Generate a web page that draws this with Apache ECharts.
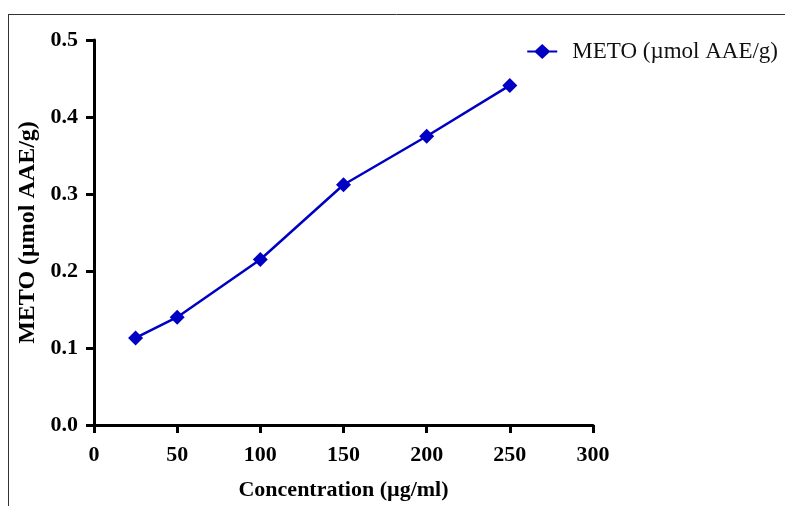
<!DOCTYPE html>
<html>
<head>
<meta charset="utf-8">
<script src="https://cdn.jsdelivr.net/npm/echarts@6/dist/echarts.min.js"></script>
<style>
  html, body { margin: 0; padding: 0; background: #fff; }
  #chart { width: 785px; height: 506px; }
</style>
</head>
<body>
<div id="chart"></div>
<script>
// concentration (µg/ml)
const concentrations = [25, 50, 100, 150, 200, 250]
// METO (µmol AAE/g)
const metoValues = [0.113, 0.140, 0.215, 0.312, 0.375, 0.441]
const seriesName = 'METO (µmol AAE/g)'

const pairs = concentrations.map((c, i) => [c, metoValues[i]])

const chart = echarts.init(document.getElementById('chart'))
const font = '"Liberation Serif", "Times New Roman", serif'

// legend icon: line with a diamond in the middle
const lineDiamond = 'path://M0,6.5L8,6.5L15,0L22,6.5L30,6.5L30,8.5L22,8.5L15,15L8,8.5L0,8.5Z'

chart.setOption({
  animation: false,
  textStyle: { fontFamily: font },
  graphic: [
    { type: 'line', shape: { x1: 8, y1: 14.5, x2: 785, y2: 14.5 }, style: { stroke: '#333', lineWidth: 1 } },
    { type: 'line', shape: { x1: 8.5, y1: 14, x2: 8.5, y2: 506 }, style: { stroke: '#333', lineWidth: 1 } },
  ],
  legend: {
    right: 2,
    top: 35,
    itemWidth: 30,
    itemHeight: 15,
    itemGap: 10,
    textStyle: { fontFamily: font, fontSize: 23, color: '#111', padding: [0, 0, 0, 10] },
    data: [{ name: seriesName, icon: lineDiamond }],
  },
  grid: { left: 94, right: 192, top: 40, bottom: 78 },
  xAxis: {
    type: 'value',
    min: 0,
    max: 300,
    interval: 50,
    name: 'Concentration (µg/ml)',
    nameLocation: 'middle',
    nameGap: 54,
    nameTextStyle: { fontFamily: font, fontSize: 22, fontWeight: 'bold', color: '#000' },
    axisLine: { show: true, lineStyle: { color: '#000', width: 3 } },
    axisTick: { show: true, length: 8, lineStyle: { color: '#000', width: 3 } },
    axisLabel: { fontFamily: font, fontSize: 22, fontWeight: 'bold', color: '#000', margin: 19 },
    splitLine: { show: false },
  },
  yAxis: {
    type: 'value',
    min: 0,
    max: 0.5,
    interval: 0.1,
    name: seriesName,
    nameLocation: 'middle',
    nameGap: 54,
    nameTextStyle: { fontFamily: font, fontSize: 24, fontWeight: 'bold', color: '#000' },
    axisLine: { show: true, lineStyle: { color: '#000', width: 3 } },
    axisTick: { show: true, length: 8, lineStyle: { color: '#000', width: 3 } },
    axisLabel: {
      fontFamily: font, fontSize: 22, fontWeight: 'bold', color: '#000', margin: 16,
      formatter: v => v.toFixed(1),
    },
    splitLine: { show: false },
  },
  series: [
    {
      name: seriesName,
      type: 'line',
      data: pairs,
      symbol: 'diamond',
      symbolSize: 15,
      lineStyle: { color: '#0000c4', width: 2.5 },
      itemStyle: { color: '#0000c4' },
    },
  ],
})
</script>
</body>
</html>
